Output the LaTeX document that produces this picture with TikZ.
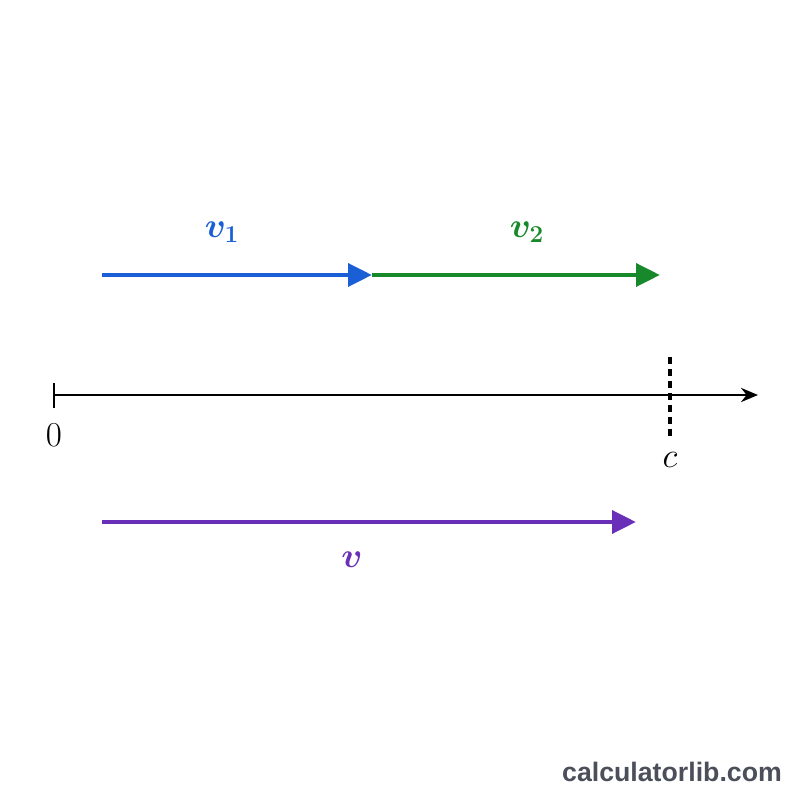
\documentclass[tikz,border=0pt]{standalone}
\usepackage{bm}
\usepackage{fontspec}
\newfontfamily\markfont{Liberation Sans}
\usetikzlibrary{arrows.meta, positioning}

\definecolor{vonecol}{HTML}{1A5FD6}
\definecolor{vtwocol}{HTML}{17892A}
\definecolor{vsumcol}{HTML}{6A2FB8}
\definecolor{markcol}{HTML}{4A4F5A}

\begin{document}
\begin{tikzpicture}[
    vec/.style={line width=3.4pt, -{Triangle[length=17pt, width=16pt]}},
    axis/.style={line width=2.1pt, -{Stealth[length=12pt, width=10pt]}},
    lbl/.style={font=\fontsize{26}{30}\selectfont},
]
    \useasboundingbox (0,0) rectangle (20,20);

    % number line
    \coordinate (O)    at (1.35,10.125);
    \coordinate (E)    at (18.95,10.125);
    \coordinate (Tup)  at (1.35,10.425);
    \coordinate (Tdn)  at (1.35,9.8);
    \coordinate (Cup)  at (16.75,11.075);
    \coordinate (Cdn)  at (16.75,9.075);
    \draw[axis] (O) -- (E);
    \draw[line width=2.1pt] (Tup) -- (Tdn);
    \draw[line width=2.3pt, dash pattern=on 5pt off 3.5pt] (Cup) -- (Cdn);
    \node[lbl] (zero) at (1.35,9.125) {$0$};
    \node[lbl] (c)    at (16.75,8.5)  {$c$};

    % added vectors
    \coordinate (A) at (2.55,13.125);
    \coordinate (B) at (9.3,13.125);
    \coordinate (C) at (16.5,13.125);
    \draw[vec, vonecol] (A) -- (B);
    \draw[vec, vtwocol] (B) -- (C);
    \node[lbl, text=vonecol] (v1) at (5.55,14.2)   {$\bm{v_1}$};
    \node[lbl, text=vtwocol] (v2) at (13.175,14.2) {$\bm{v_2}$};

    % result
    \coordinate (S) at (2.55,6.95);
    \coordinate (T) at (15.9,6.95);
    \draw[vec, vsumcol] (S) -- (T);
    \node[lbl, text=vsumcol] (v) at (8.8,6.0) {$\bm{v}$};

    \node[font=\markfont\bfseries\fontsize{19}{22}\selectfont, text=markcol] (mark) at (16.8,0.7) {calculatorlib.com};
\end{tikzpicture}
\end{document}
